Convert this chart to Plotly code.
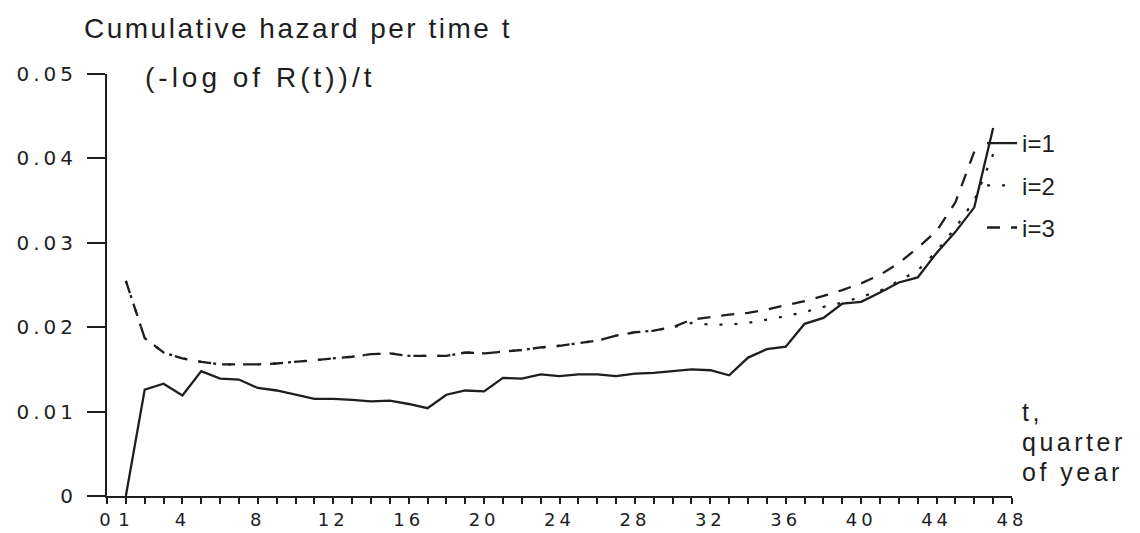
import plotly.graph_objects as go

# quarter-of-year index and estimated (-log R(t))/t for each group i
t_i1 = list(range(1, 48))
hazard_i1 = [0.0, 0.0126, 0.0133, 0.0119, 0.0148, 0.0139, 0.0138, 0.0128, 0.0125, 0.0120,
             0.0115, 0.0115, 0.0114, 0.0112, 0.0113, 0.0109, 0.0104, 0.0120, 0.0125, 0.0124,
             0.0140, 0.0139, 0.0144, 0.0142, 0.0144, 0.0144, 0.0142, 0.0145, 0.0146, 0.0148,
             0.0150, 0.0149, 0.0143, 0.0164, 0.0174, 0.0177, 0.0204, 0.0211, 0.0228, 0.0230,
             0.0241, 0.0253, 0.0259, 0.0288, 0.0313, 0.0342, 0.0436]

t_i3 = list(range(1, 47))
hazard_i3 = [0.0255, 0.0187, 0.0170, 0.0163, 0.0159, 0.0156, 0.0156, 0.0156, 0.0157, 0.0159,
             0.0161, 0.0163, 0.0165, 0.0168, 0.0169, 0.0166, 0.0166, 0.0166, 0.0170, 0.0169,
             0.0171, 0.0173, 0.0176, 0.0178, 0.0181, 0.0184, 0.0190, 0.0194, 0.0196, 0.0200,
             0.0209, 0.0212, 0.0215, 0.0217, 0.0221, 0.0226, 0.0231, 0.0237, 0.0244, 0.0252,
             0.0262, 0.0276, 0.0294, 0.0314, 0.0348, 0.0408]

t_i2 = list(range(1, 48))
hazard_i2 = [0.0255, 0.0187, 0.0170, 0.0163, 0.0159, 0.0156, 0.0156, 0.0156, 0.0157, 0.0159,
             0.0161, 0.0163, 0.0165, 0.0168, 0.0169, 0.0166, 0.0166, 0.0166, 0.0170, 0.0169,
             0.0171, 0.0173, 0.0176, 0.0178, 0.0181, 0.0184, 0.0190, 0.0194, 0.0196, 0.0200,
             0.0205, 0.0203, 0.0203, 0.0205, 0.0209, 0.0213, 0.0218, 0.0224, 0.0229, 0.0236,
             0.0243, 0.0255, 0.0267, 0.0290, 0.0318, 0.0350, 0.0405]

x_tick_values = list(range(0, 49))
x_tick_labels = ["0", "1"] + ["" for _ in range(2, 49)]
for v in range(4, 49, 4):
    x_tick_labels[v] = str(v)

y_tick_values = [0, 0.01, 0.02, 0.03, 0.04, 0.05]
y_tick_labels = ["0", "0.01", "0.02", "0.03", "0.04", "0.05"]

INK = "#1e1e1e"
TEXT_FONT = "Liberation Sans, Arial, sans-serif"
TICK_FONT = "DejaVu Sans, Verdana, sans-serif"

fig = go.Figure()
fig.add_trace(go.Scatter(x=t_i1, y=hazard_i1, mode="lines", name="i=1",
                         line=dict(color=INK, width=2.3), legendgroup="a"))
fig.add_trace(go.Scatter(x=t_i2, y=hazard_i2, mode="lines", name="i=2",
                         line=dict(color=INK, width=2.3, dash="3px,12px"), legendgroup="b"))
fig.add_trace(go.Scatter(x=t_i3, y=hazard_i3, mode="lines", name="i=3",
                         line=dict(color=INK, width=2.3, dash="13px,11px"), legendgroup="c"))

fig.update_layout(
    width=1140, height=533,
    margin=dict(l=107, r=128, t=74, b=37, autoexpand=False),
    paper_bgcolor="white", plot_bgcolor="white",
    showlegend=True,
    legend=dict(x=0.9669, y=0.8886, xanchor="left", yanchor="top",
                font=dict(family=TEXT_FONT, size=24, color=INK),
                bgcolor="rgba(0,0,0,0)", tracegroupgap=8, itemwidth=30),
    xaxis=dict(range=[0, 48], tickmode="array", tickvals=x_tick_values, ticktext=x_tick_labels,
               ticks="outside", ticklen=6, tickwidth=1.6, tickcolor=INK,
               showline=True, linecolor=INK, linewidth=2, showgrid=False, zeroline=False,
               tickfont=dict(family=TICK_FONT, size=18, color=INK), tickangle=0,
               ticklabelstandoff=0, automargin=False),
    yaxis=dict(range=[0, 0.05], tickmode="array", tickvals=y_tick_values, ticktext=y_tick_labels,
               ticks="outside", ticklen=18, tickwidth=1.6, tickcolor=INK,
               showline=True, linecolor=INK, linewidth=2, showgrid=False, zeroline=False,
               tickfont=dict(family=TICK_FONT, size=20, color=INK), ticklabelstandoff=6,
               automargin=False),
)

plot_w, plot_h, left, top = 905, 422, 107, 74


def paper_x(px):
    return (px - left) / plot_w


def paper_y(py):
    return (top + plot_h - py) / plot_h


labels = [
    ("Cumulative hazard per time t", 82, 29, 28),
    ("(-log of R(t))/t", 143, 77, 28),
    ("t,", 1020, 412, 25),
    ("quarter", 1020, 442, 25),
    ("of year", 1020, 472, 25),
]
for text, px, py, size in labels:
    fig.add_annotation(text=text, xref="paper", yref="paper", x=paper_x(px), y=paper_y(py),
                       xanchor="left", yanchor="middle", align="left", showarrow=False,
                       font=dict(family=TEXT_FONT, size=size, color=INK))

# wide tracking for the printed lettering
tracking_css = (
    ".xtick text{letter-spacing:4px}"
    ".ytick text{letter-spacing:4px}"
    "g.annotation[data-index='0'] text{letter-spacing:2.5px}"
    "g.annotation[data-index='1'] text{letter-spacing:4px}"
    "g.annotation[data-index='2'] text, g.annotation[data-index='3'] text,"
    " g.annotation[data-index='4'] text{letter-spacing:3.5px}"
)
post_js = (
    "var st = document.createElement('style');"
    "st.textContent = \"" + tracking_css + "\";"
    "document.head.appendChild(st);"
)

fig.write_html("out.html", post_script=post_js)
